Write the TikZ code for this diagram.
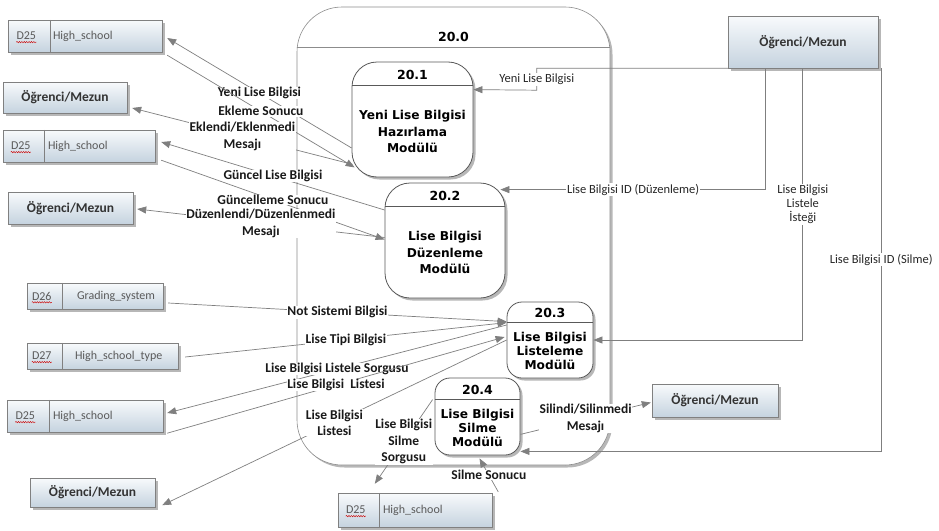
\documentclass[tikz,border=0pt]{standalone}
\usepackage{fontspec}
\setmainfont{Carlito}
\newfontfamily\procfont{DejaVu Sans}
\usetikzlibrary{arrows.meta,calc,shadows,decorations.pathmorphing}

\definecolor{flowgray}{HTML}{7F7F7F}
\definecolor{boxtop}{HTML}{F8FAFC}
\definecolor{boxbot}{HTML}{C5D3DF}
\definecolor{edgegray}{HTML}{808080}
\definecolor{idgray}{HTML}{5A5A5A}

\tikzset{
  flow/.style={draw=flowgray, line width=0.7pt, -{Triangle[length=9pt, width=7pt]}},
  lbl/.style={fill=white, inner sep=0.5pt, align=center, text=black!90, font=\fontsize{13.5}{16.5}\selectfont\bfseries},
  rlbl/.style={fill=white, inner sep=1pt, align=center, text=black!85, font=\fontsize{12.5}{14}\selectfont},
  boxshadow/.style={drop shadow={shadow xshift=2.5pt, shadow yshift=-2.5pt, fill=black!40, opacity=0.7}},
  ext/.style={draw=edgegray, top color=boxtop, bottom color=boxbot, boxshadow, font=\fontsize{13.5}{15}\selectfont\bfseries, text=black!80},
  store/.style={draw=edgegray, top color=boxtop, bottom color=boxbot, boxshadow},
  storetext/.style={inner sep=0pt, text=idgray, font=\fontsize{12}{14}\selectfont},
  proc/.style={draw=black!65, fill=white, line width=0.8pt, boxshadow},
  procnum/.style={font=\procfont\bfseries\fontsize{12.5}{14}\selectfont},
  squig/.style={draw=red!80!black, line width=0.4pt, decorate, decoration={snake, amplitude=0.7pt, segment length=2.4pt}},
}

\begin{document}
\begin{tikzpicture}[x=1pt, y=-1pt]
\useasboundingbox (0,0) rectangle (939,530);

% 20.0
\node[proc, draw=black!45, line width=0.6pt, rounded corners=45pt, minimum width=313pt, minimum height=458pt] (p0) at (453.5,236) {};
\draw[black!45, line width=0.6pt] (p0.west |- 0,47) -- (p0.east |- 0,47);
\node[procnum] (p0num) at (p0.north |- 0,37) {20.0};

\def\procs {p1/412.5/119.5/121/115/25/24/20.1/16.5/{Yeni Lise Bilgisi\\Hazırlama\\Modülü},
  p2/445/240.5/120/115/25/24/20.2/16.5/{Lise Bilgisi\\Düzenleme\\Modülü},
  p3/550/340/86/76/15/21/20.3/14/{Lise Bilgisi\\Listeleme\\Modülü},
  p4/477.5/416.5/85/77/15/22/20.4/14/{Lise Bilgisi\\Silme\\Modülü}}  % sub processes
\foreach \n/\cx/\cy/\w/\h/\r/\hd/\num/\ls/\txt in \procs
{	\node[proc, rounded corners=\r pt, minimum width=\w pt, minimum height=\h pt] (\n) at (\cx,\cy) {};
	\draw[black!65, line width=0.8pt] ($(\n.north west)+(0,\hd)$) -- ($(\n.north east)+(0,\hd)$);
	\node[procnum] (\n num) at ($(\n.north)+(0,\hd/2+1)$) {\num};
	\node[align=center, inner sep=0pt, font=\procfont\bfseries\fontsize{12.2}{\ls}\selectfont] (\n txt) at ($(\n.south)!0.5!(\n.north)+(0,\hd/2)$) {\txt};}

\def\externals {e1/65/97.5/124/31, e2/70.5/208/125/32, e3/92.5/492.5/125/29, e4/803/42/150/52, e5/715/400.5/126/33}  % actors
\foreach \n/\cx/\cy/\w/\h in \externals
{	\node[ext, minimum width=\w pt, minimum height=\h pt] (\n) at (\cx,\cy) {Öğrenci/Mezun};}

\def\stores {d1/85/36/154/32/43/45/D25/High\_school, d2/79/146/152/32/42/45/D25/High\_school,
  d3/95/296/136/26/36/50/D26/Grading\_system, d4/102.5/356/151/26/36/48/D27/High\_school\_type,
  d5/85/416/156/32/43/46/D25/High\_school, d6/415/510/154/34/42/45/D25/High\_school}  % data stores
\foreach \n/\cx/\cy/\w/\h/\dv/\tx/\id/\name in \stores
{	\node[store, minimum width=\w pt, minimum height=\h pt] (\n) at (\cx,\cy) {};
	\draw[edgegray, line width=0.9pt] ($(\n.north west)+(\dv,0)$) -- ($(\n.south west)+(\dv,0)$);
	\node[storetext] (\n id) at ($(\n.west)+(\dv/2-3,0)$) {\id};
	\node[storetext, anchor=west] (\n name) at ($(\n.west)+(\tx,0)$) {\name};
	\draw[squig] ($(\n id.south west)+(0,2)$) -- ($(\n id.south east)+(0,2)$);}

% 20.1
\draw[flow] ($(p1.west)+(0,28.5)$) -- node[lbl] {Yeni Lise Bilgisi} ($(d1.east)+(5,2)$);
\draw[flow] ($(d1.south east)+(5,3)$) -- node[lbl] {Ekleme Sonucu} ($(p1.south west)+(3,-10)$);
\draw[flow] ($(p1.south west)+(1,-13)$) -- node[lbl] {Eklendi/Eklenmedi\\Mesajı} ($(e1.east)+(5,10.5)$);

% 20.2
\draw[flow] ($(p2.west)+(0,-30.5)$) -- node[lbl] {Güncel Lise Bilgisi} ($(d2.east)+(6,-4)$);
\draw[flow] ($(d2.south east)+(6,-2)$) -- node[lbl] {Güncelleme Sonucu} ($(p2.west)+(0,-1)$);
\draw[flow] ($(p2.west)+(0,-3)$) -- node[lbl] {Düzenlendi/Düzenlenmedi\\Mesajı} ($(e2.east)+(4,1)$);

% 20.3
\draw[flow] ($(d3.east)+(5,7)$) -- node[lbl] {Not Sistemi Bilgisi} ($(p3.north west)+(0,20)$);
\draw[flow] ($(d4.east)+(7,1)$) -- node[lbl] {Lise Tipi Bilgisi} ($(p3.north west)+(0,21)$);
\draw[flow] ($(p3.west)+(0,-15)$) -- node[lbl] {Lise Bilgisi Listele Sorgusu} ($(d5.east)+(4,-3)$);
\draw[flow] ($(d5.south east)+(4,1)$) -- node[lbl] {Lise Bilgisi\ \ Listesi} ($(p3.west)+(-2,-3)$);
\draw[flow] (p3.west) -- node[lbl] {Lise Bilgisi\\Listesi} ($(e3.south east)+(7,-2)$);

% 20.4
\draw[flow] ($(p4.north west)+(-2,22)$) -- node[lbl] {Lise Bilgisi\\Silme\\Sorgusu} ($(d6.north west)+(37,-9)$);
\draw[flow] ($(d6.north east)+(6,-1)$) -- node[lbl] {Silme Sonucu} ($(p4.south)+(2,3)$);
\draw[flow] ($(p4.south east)+(0,-21)$) -- node[lbl] {Silindi/Silinmedi\\Mesajı} ($(e5.west)+(-1,2)$);

% requests from the right actor
\draw[flow] (e4.south west) -- ++(-191,0) -- node[rlbl] {Yeni Lise Bilgisi} ++(0,22) -- ($(p1.north east)+(0,28)$);
\draw[flow] ($(e4.south west)+(38,0)$) |- node[rlbl, pos=0.75] {Lise Bilgisi ID (Düzenleme)} ($(p2.north east)+(-5,7)$);
\draw[flow] ($(e4.south west)+(75,0)$) |- node[rlbl, pos=0.25] {Lise Bilgisi\\Listele\\İsteği} (p3.east);
\draw[flow] ($(e4.south east)+(3,0)$) |- node[rlbl, pos=0.25] {Lise Bilgisi ID (Silme)} ($(p4.south east)+(0,-4)$);
\end{tikzpicture}
\end{document}
